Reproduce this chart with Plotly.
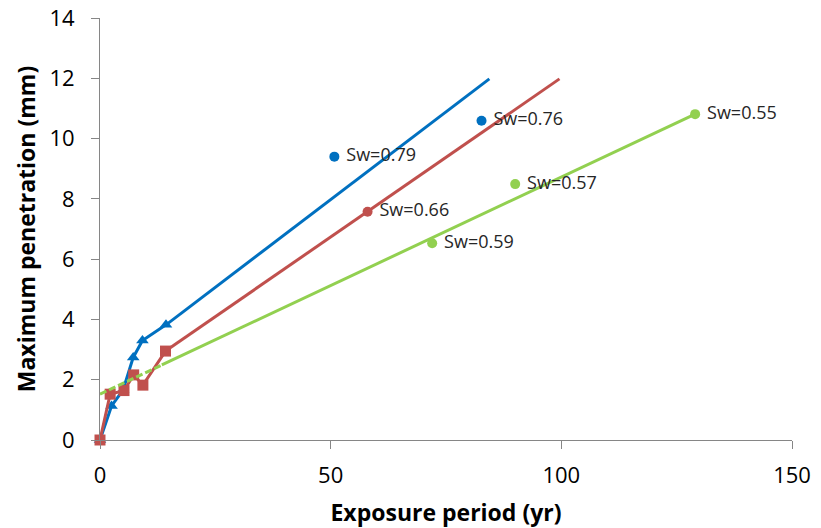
import plotly.graph_objects as go

# ---- data ----
blue_x = [0, 2.5, 5.0, 7.2, 9.2, 14.3]
blue_y = [0, 1.13, 1.66, 2.74, 3.30, 3.82]
blue_fit_x = [14.3, 84.4]
blue_fit_y = [3.82, 11.98]

red_x = [0, 2.2, 5.2, 7.3, 9.3, 14.2]
red_y = [0, 1.52, 1.64, 2.16, 1.82, 2.95]
red_fit_x = [14.2, 99.6]
red_fit_y = [2.95, 11.98]

green_dash_x = [0, 13.4]
green_dash_y = [1.52, 2.49]
green_fit_x = [13.4, 129.0]
green_fit_y = [2.49, 10.81]

blue_pts_x = [50.8, 82.7]
blue_pts_y = [9.40, 10.59]
blue_pts_lbl = ["Sw=0.79", "Sw=0.76"]

red_pts_x = [58.0]
red_pts_y = [7.57]
red_pts_lbl = ["Sw=0.66"]

green_pts_x = [72.0, 90.0, 129.0]
green_pts_y = [6.53, 8.49, 10.81]
green_pts_lbl = ["Sw=0.59", "Sw=0.57", "Sw=0.55"]

x_ticks = [0, 50, 100, 150]
y_ticks = [0, 2, 4, 6, 8, 10, 12, 14]

BLUE = "#0070C0"
RED = "#C0504D"
GREEN = "#92D050"
FONT = "Open Sans"

fig = go.Figure()

fig.add_trace(go.Scatter(x=green_fit_x, y=green_fit_y, mode="lines",
                         line=dict(color=GREEN, width=3), cliponaxis=False))
fig.add_trace(go.Scatter(x=red_fit_x, y=red_fit_y, mode="lines",
                         line=dict(color=RED, width=3), cliponaxis=False))
fig.add_trace(go.Scatter(x=blue_fit_x, y=blue_fit_y, mode="lines",
                         line=dict(color=BLUE, width=3), cliponaxis=False))
fig.add_trace(go.Scatter(x=blue_x, y=blue_y, mode="lines+markers",
                         line=dict(color=BLUE, width=3),
                         marker=dict(symbol="triangle-up", size=11, color=BLUE),
                         cliponaxis=False))
fig.add_trace(go.Scatter(x=red_x, y=red_y, mode="lines+markers",
                         line=dict(color=RED, width=3),
                         marker=dict(symbol="square", size=11, color=RED),
                         cliponaxis=False))
fig.add_trace(go.Scatter(x=green_dash_x, y=green_dash_y, mode="lines",
                         line=dict(color=GREEN, width=3, dash="7px,3px"), cliponaxis=False))

for xs, ys, lb, c in [(blue_pts_x, blue_pts_y, blue_pts_lbl, BLUE),
                      (red_pts_x, red_pts_y, red_pts_lbl, RED),
                      (green_pts_x, green_pts_y, green_pts_lbl, GREEN)]:
    fig.add_trace(go.Scatter(x=xs, y=ys, mode="markers+text", text=[" " + t for t in lb],
                             textposition="middle right",
                             textfont=dict(family=FONT, size=18, color="#262626"),
                             marker=dict(symbol="circle", size=10, color=c),
                             cliponaxis=False))

axis_common = dict(showline=True, linecolor="#868686", linewidth=1, ticks="outside",
                   ticklen=8, tickcolor="#868686", showgrid=False, zeroline=False,
                   automargin=False,
                   tickfont=dict(family=FONT, size=22, color="#000000"))

fig.update_layout(
    width=821, height=528,
    margin=dict(l=100, r=29, t=18, b=88),
    plot_bgcolor="white", paper_bgcolor="white",
    showlegend=False,
    xaxis=dict(range=[0, 150], tickvals=x_ticks, ticklabelstandoff=8,
               title=dict(text="<b>Exposure period (yr)</b>",
                          font=dict(family=FONT, size=23, color="#000000"), standoff=18),
               **axis_common),
    yaxis=dict(range=[0, 14], tickvals=y_ticks, ticklabelstandoff=12,
               title=dict(text="<b>Maximum penetration (mm)</b>",
                          font=dict(family=FONT, size=23, color="#000000"), standoff=7),
               **axis_common),
)

fig.write_html("out.html", config={"displayModeBar": False},
               post_script="document.body.style.margin='0';document.body.style.padding='0';")
